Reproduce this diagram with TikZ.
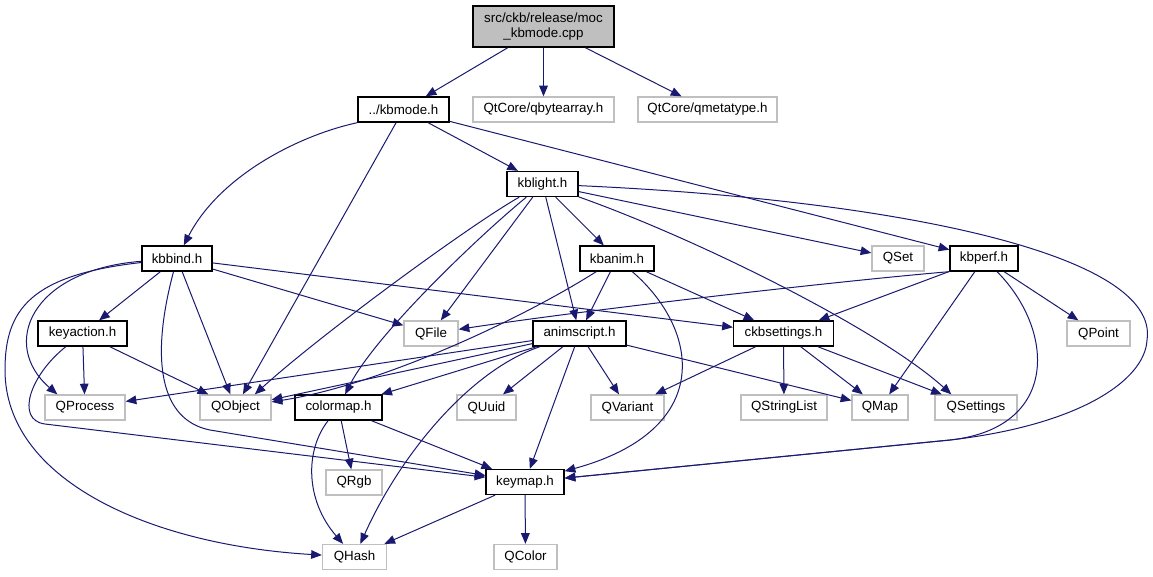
\documentclass[tikz,border=0pt]{standalone}
\usepackage{fontspec}
\setmainfont{Liberation Sans}
\usetikzlibrary{arrows.meta}

\definecolor{edgeblue}{HTML}{191970}
\definecolor{grey75}{HTML}{BFBFBF}

\tikzset{
  file/.style={draw=black, line width=1pt, fill=white, minimum height=18.75pt,
    inner sep=0pt, font=\fontsize{10}{11.5}\selectfont},
  ext/.style={file, draw=grey75},
  rootfile/.style={file, fill=grey75, minimum height=30.75pt, align=center},
  inc/.style={draw=edgeblue, line width=0.75pt, -{Triangle[length=8pt,width=6.5pt]}},
}

\begin{document}
\begin{tikzpicture}[x=0.75pt, y=-0.75pt]
    \useasboundingbox (0,0) rectangle (1153,576);
    % files, row by row
    \node[rootfile, minimum width=105.75pt] (root) at (543.5,26.5) {src/ckb/release/moc\\\_kbmode.cpp};
    \node[file, minimum width=68.25pt] (kbmode) at (403.5,109.5) {../kbmode.h};
    \node[ext, minimum width=105.75pt] (qbytearray) at (543.5,109.5) {QtCore/qbytearray.h};
    \node[ext, minimum width=104.25pt] (qmetatype) at (707.5,109.5) {QtCore/qmetatype.h};
    \node[file, minimum width=53.25pt] (kblight) at (542.5,184) {kblight.h};
    \node[file, minimum width=52.5pt] (kbbind) at (177,258.5) {kbbind.h};
    \node[file, minimum width=55.5pt] (kbanim) at (617,258.5) {kbanim.h};
    \node[ext, minimum width=39pt] (QSet) at (898,258.5) {QSet};
    \node[file, minimum width=51pt] (kbperf) at (984,258.5) {kbperf.h};
    \node[file, minimum width=66.75pt] (keyaction) at (82.5,333.5) {keyaction.h};
    \node[ext, minimum width=40.5pt] (QFile) at (431,333.5) {QFile};
    \node[file, minimum width=69.75pt] (animscript) at (579.5,333.5) {animscript.h};
    \node[file, minimum width=75pt] (ckbsettings) at (783.5,333.5) {ckbsettings.h};
    \node[ext, minimum width=47.25pt] (QPoint) at (1098.5,333.5) {QPoint};
    \node[ext, minimum width=60pt] (QProcess) at (85,407.5) {QProcess};
    \node[ext, minimum width=53.25pt] (QObject) at (235.5,407.5) {QObject};
    \node[file, minimum width=65.25pt] (colormap) at (338.5,407.5) {colormap.h};
    \node[ext, minimum width=44.25pt] (QUuid) at (486.5,407.5) {QUuid};
    \node[ext, minimum width=54.75pt] (QVariant) at (627.5,407.5) {QVariant};
    \node[ext, minimum width=64.5pt] (QStringList) at (784,407.5) {QStringList};
    \node[ext, minimum width=42pt] (QMap) at (880,407.5) {QMap};
    \node[ext, minimum width=61.5pt] (QSettings) at (976,407.5) {QSettings};
    \node[ext, minimum width=42pt] (QRgb) at (354,482.5) {QRgb};
    \node[file, minimum width=58.5pt] (keymap) at (525,482) {keymap.h};
    \node[ext, minimum width=48pt] (QHash) at (354.5,557) {QHash};
    \node[ext, minimum width=47.25pt] (QColor) at (525.5,557) {QColor};

    % includes
    \draw[inc] (root) -- (kbmode);
    \draw[inc] (root) -- (qbytearray);
    \draw[inc] (root) -- (qmetatype);

    \draw[inc] (kbmode.south west) .. controls (300,135) and (220,175) .. (kbbind);
    \draw[inc] (kbmode) -- (QObject);
    \draw[inc] (kbmode) -- (kblight);
    \draw[inc] (kbmode) -- (kbperf);

    \draw[inc] (kblight) .. controls (470,225) and (320,335) .. ([xshift=14.5pt]QObject.north);
    \draw[inc] (kblight) .. controls (480,235) and (375,335) .. (colormap);
    \draw[inc] (kblight) -- (QFile);
    \draw[inc] (kblight) -- (animscript);
    \draw[inc] (kblight) -- (kbanim);
    \draw[inc] (kblight) .. controls (700,240) and (880,330) .. ([xshift=12.75pt]QSettings.north west);
    \draw[inc] (kblight) -- (QSet);
    \draw[inc] (kblight) .. controls (900,200) and (1160,255) .. (1147,340)
        .. controls (1145,380) and (1080,425) .. (950,440) -- (keymap);

    \draw[inc] (kbbind) -- (keyaction);
    \draw[inc] (kbbind) .. controls (30,270) and (0,345) .. ([xshift=9.75pt]QProcess.north west);
    \draw[inc] (kbbind) .. controls (30,275) and (5,310) .. (5,370)
        .. controls (5,480) and (150,545) .. (QHash);
    \draw[inc] (kbbind) -- (QObject);
    \draw[inc] (kbbind) .. controls (150,360) and (160,420) .. (210,430) -- (keymap);
    \draw[inc] (kbbind) -- (QFile);
    \draw[inc] (kbbind) -- (ckbsettings);

    \draw[inc] (keyaction) -- (QProcess);
    \draw[inc] (keyaction) -- (QObject);
    \draw[inc] (keyaction) .. controls (30,375) and (15,420) .. (45,424) -- (keymap);

    \draw[inc] (kbanim) .. controls (520,320) and (380,385) .. (QObject);
    \draw[inc] (kbanim) -- (animscript);
    \draw[inc] (kbanim) -- (ckbsettings);
    \draw[inc] (kbanim) .. controls (700,330) and (715,430) .. (keymap);

    \draw[inc] (kbperf.south west) .. controls (850,280) and (600,308) .. (QFile);
    \draw[inc] (kbperf) -- (ckbsettings);
    \draw[inc] (kbperf) -- (QMap);
    \draw[inc] (kbperf) .. controls (1055,330) and (1060,428) .. (950,440) -- (keymap);
    \draw[inc] (kbperf) -- (QPoint);

    \draw[inc] (animscript) -- (QProcess);
    \draw[inc] (animscript) -- (QObject);
    \draw[inc] (animscript) -- (colormap);
    \draw[inc] (animscript) -- (QUuid);
    \draw[inc] (animscript) -- (QVariant);
    \draw[inc] (animscript) -- (QMap);
    \draw[inc] (animscript) -- (keymap);
    \draw[inc] (animscript) .. controls (470,370) and (400,455) .. (QHash);

    \draw[inc] (ckbsettings) -- (QVariant);
    \draw[inc] (ckbsettings) -- (QStringList);
    \draw[inc] (ckbsettings) -- (QMap);
    \draw[inc] (ckbsettings) -- (QSettings);

    \draw[inc] (colormap) -- (QRgb);
    \draw[inc] (colormap) .. controls (305,450) and (305,500) .. (QHash);
    \draw[inc] (colormap) -- (keymap);

    \draw[inc] (keymap) -- (QHash);
    \draw[inc] (keymap) -- (QColor);
\end{tikzpicture}
\end{document}
